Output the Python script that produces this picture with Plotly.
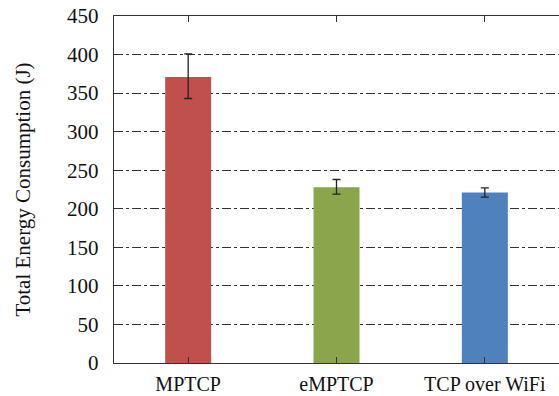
import plotly.graph_objects as go

categories = ["MPTCP", "eMPTCP", "TCP over WiFi"]
values = [371, 228, 221]
err_plus = [30, 10, 6]
err_minus = [28, 9, 6]
colors = ["#C0504D", "#8AA54B", "#4F81BD"]
y_ticks = [0, 50, 100, 150, 200, 250, 300, 350, 400, 450]

SERIF = "Liberation Serif"

fig = go.Figure()
fig.add_trace(go.Bar(
    x=categories, y=values,
    marker=dict(color=colors, line=dict(width=0)),
    width=0.31,
    error_y=dict(type="data", symmetric=False, array=err_plus, arrayminus=err_minus,
                 color="#222222", thickness=1.3, width=4),
))

fig.update_layout(
    width=559, height=396,
    margin=dict(l=114, r=0, t=16, b=33),
    plot_bgcolor="white", paper_bgcolor="white",
    font=dict(family=SERIF, size=20, color="#111111"),
    showlegend=False,
    xaxis=dict(range=[-0.5, 2.5], showline=True, linecolor="#333333", linewidth=1.2,
               mirror="ticks", ticks="inside", ticklen=6, tickcolor="#333333",
               showgrid=False, automargin=False, ticklabelstandoff=3,
               ticklabeloverflow="allow",
               tickfont=dict(family=SERIF, size=20, color="#111111")),
    yaxis=dict(range=[0, 450], tickvals=y_ticks, showline=True, linecolor="#333333",
               linewidth=1.2, mirror=True, ticks="inside", ticklen=0,
               showgrid=True, gridcolor="#333333", griddash="dashdot", gridwidth=1,
               zeroline=False, automargin=False, ticklabelstandoff=10,
               ticklabeloverflow="allow",
               tickfont=dict(family=SERIF, size=21, color="#111111")),
)
fig.update_yaxes(title=dict(text="Total Energy Consumption (J)",
                            font=dict(family=SERIF, size=21, color="#111111"), standoff=30))

fig.write_html("out.html", config={"displayModeBar": False, "staticPlot": True},
               post_script="document.body.style.margin='0';")
